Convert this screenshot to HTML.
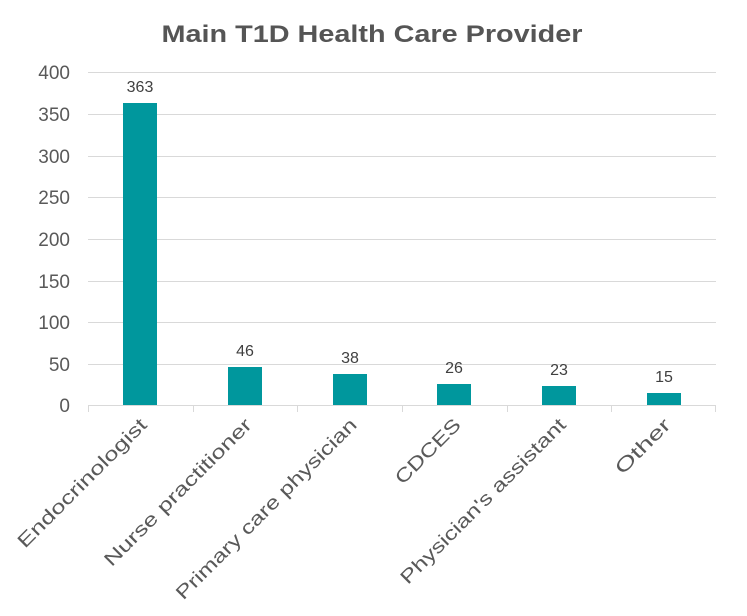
<html><body style="margin:0;background:#fff">
<svg width="747" height="616" xmlns="http://www.w3.org/2000/svg" font-family="Liberation Sans, sans-serif">
<text x="372" y="42" text-anchor="middle" font-size="24" font-weight="bold" fill="#555" textLength="421" lengthAdjust="spacingAndGlyphs">Main T1D Health Care Provider</text>
<g stroke="#d9d9d9" stroke-width="1">
<line x1="88" x2="716" y1="72.5" y2="72.5"/><line x1="88" x2="716" y1="114.5" y2="114.5"/>
<line x1="88" x2="716" y1="156.5" y2="156.5"/><line x1="88" x2="716" y1="197.5" y2="197.5"/>
<line x1="88" x2="716" y1="239.5" y2="239.5"/><line x1="88" x2="716" y1="281.5" y2="281.5"/>
<line x1="88" x2="716" y1="322.5" y2="322.5"/><line x1="88" x2="716" y1="364.5" y2="364.5"/>
<line x1="88" x2="716" y1="405.5" y2="405.5"/>
<line x1="88.5" x2="88.5" y1="405" y2="412"/><line x1="193.5" x2="193.5" y1="405" y2="412"/>
<line x1="297.5" x2="297.5" y1="405" y2="412"/><line x1="402.5" x2="402.5" y1="405" y2="412"/>
<line x1="507.5" x2="507.5" y1="405" y2="412"/><line x1="611.5" x2="611.5" y1="405" y2="412"/>
<line x1="715.5" x2="715.5" y1="405" y2="412"/>
</g>
<g font-size="19" fill="#595959" text-anchor="end">
<text x="70" y="79">400</text><text x="70" y="121">350</text><text x="70" y="163">300</text>
<text x="70" y="204">250</text><text x="70" y="246">200</text><text x="70" y="288">150</text>
<text x="70" y="329">100</text><text x="70" y="371">50</text><text x="70" y="412">0</text>
</g>
<g fill="#00979d">
<rect x="123" y="103" width="34" height="302"/>
<rect x="228" y="367" width="34" height="38"/>
<rect x="333" y="374" width="34" height="31"/>
<rect x="437" y="384" width="34" height="21"/>
<rect x="542" y="386" width="34" height="19"/>
<rect x="647" y="393" width="34" height="12"/>
</g>
<g font-size="16" fill="#404040" text-anchor="middle">
<text x="140" y="92">363</text><text x="245" y="356">46</text><text x="350" y="363">38</text>
<text x="454" y="373">26</text><text x="559" y="375">23</text><text x="664" y="382">15</text>
</g>
<g font-size="19" fill="#595959" text-anchor="end">
<text transform="translate(148,426) rotate(-45)" textLength="174" lengthAdjust="spacingAndGlyphs">Endocrinologist</text>
<text transform="translate(253,426) rotate(-45)" textLength="200" lengthAdjust="spacingAndGlyphs">Nurse practitioner</text>
<text transform="translate(358,426) rotate(-45)" textLength="247" lengthAdjust="spacingAndGlyphs">Primary care physician</text>
<text transform="translate(462,426) rotate(-45)" textLength="84" lengthAdjust="spacingAndGlyphs">CDCES</text>
<text transform="translate(567,426) rotate(-45)" textLength="225" lengthAdjust="spacingAndGlyphs">Physician's assistant</text>
<text transform="translate(672,426) rotate(-45)" textLength="70" lengthAdjust="spacingAndGlyphs">Other</text>
</g>
</svg>
</body></html>
